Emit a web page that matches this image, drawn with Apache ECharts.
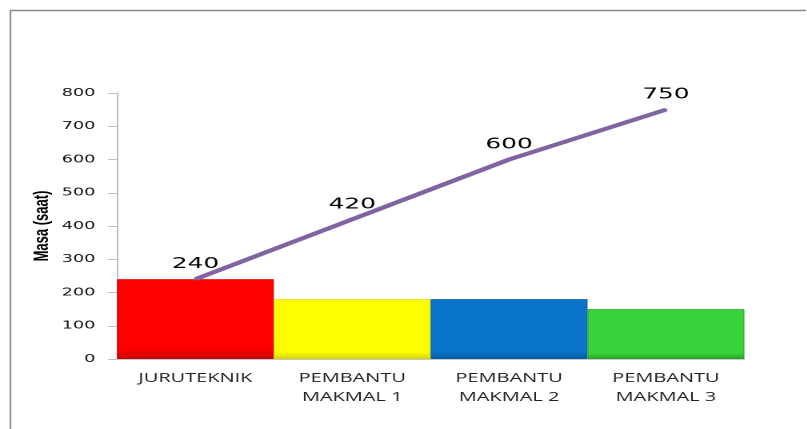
<!DOCTYPE html>
<html>
<head>
<meta charset="utf-8">
<script src="https://cdn.jsdelivr.net/npm/echarts@6/dist/echarts.min.js"></script>
<style>
  html, body { margin: 0; padding: 0; background: #ffffff; overflow: hidden; }
  #frame { width: 807px; height: 429px; overflow: hidden; position: relative; }
  /* the chart is drawn narrow and widened horizontally, giving the broad lettering */
  #chart { width: 504.4px; height: 429px; transform: scaleX(1.6); transform-origin: 0 0; }
</style>
</head>
<body>
<div id="frame"><div id="chart"></div></div>
<script>
// Job categories along the x axis
const categories = ['JURUTEKNIK', 'PEMBANTU\nMAKMAL 1', 'PEMBANTU\nMAKMAL 2', 'PEMBANTU\nMAKMAL 3'];
// Hours per role (bars)
const hoursPerRole = [240, 180, 180, 150];
// Running total of hours (line)
const cumulativeHours = [240, 420, 600, 750];
// Bar fill colours, one per role
const barColors = ['#ff0000', '#ffff00', '#0a74c8', '#3ad23a'];
const barEdges = ['#c40000', '#d4d400', '#075a9c', '#29a029'];

const SX = 1.6; // horizontal widening applied by CSS

const chart = echarts.init(document.getElementById('chart'), null, { renderer: 'canvas', devicePixelRatio: 2 });

chart.setOption({
  backgroundColor: '#ffffff',
  animation: false,
  graphic: [
    {
      type: 'line',
      shape: { x1: 10.5 / SX, y1: 10, x2: 10.5 / SX, y2: 429 },
      style: { stroke: '#8a8a8a', lineWidth: 1 }
    },
    {
      type: 'line',
      shape: { x1: 10 / SX, y1: 10.5, x2: 807 / SX, y2: 10.5 },
      style: { stroke: '#8a8a8a', lineWidth: 1.5 }
    }
  ],
  grid: { left: 117 / SX, right: 62 / SX, top: 93, bottom: 70 },
  xAxis: {
    type: 'category',
    data: categories,
    axisLine: { show: true, lineStyle: { color: '#c8c8c8' } },
    axisTick: { show: false },
    axisLabel: {
      color: '#222',
      fontFamily: 'Open Sans',
      fontSize: 12.5,
      lineHeight: 19,
      margin: 10
    }
  },
  yAxis: {
    type: 'value',
    min: 0,
    max: 800,
    interval: 100,
    name: 'Masa (saat)',
    nameLocation: 'middle',
    nameGap: 40,
    nameMoveOverlap: false,
    nameTextStyle: {
      color: '#000',
      fontFamily: 'Liberation Sans',
      fontWeight: 'bold',
      fontSize: 13
    },
    axisLine: { show: true, lineStyle: { color: '#c0c0c0' } },
    axisTick: { show: true, length: 5.5, lineStyle: { color: '#c0c0c0' } },
    splitLine: { show: false },
    axisLabel: {
      color: '#111',
      fontFamily: 'DejaVu Sans',
      fontSize: 11,
      margin: 13.5
    }
  },
  series: [
    {
      type: 'bar',
      data: hoursPerRole.map((v, i) => ({
        value: v,
        itemStyle: {
          color: new echarts.graphic.LinearGradient(0, 0, 0, 1, [
            { offset: 0, color: barColors[i] },
            { offset: 0.88, color: barColors[i] },
            { offset: 1, color: barEdges[i] }
          ]),
          borderColor: barEdges[i],
          borderWidth: 0.5
        }
      })),
      barCategoryGap: '0%',
      barWidth: '100%',
      z: 2
    },
    {
      type: 'line',
      data: cumulativeHours,
      symbol: 'circle',
      symbolSize: 2,
      showSymbol: true,
      itemStyle: { color: '#8064a2' },
      lineStyle: { color: '#8064a2', width: 4 },
      label: {
        show: true,
        position: 'top',
        distance: 6,
        color: '#000',
        fontFamily: 'DejaVu Sans',
        fontSize: 15.5
      },
      z: 3
    }
  ]
});
</script>
</body>
</html>
